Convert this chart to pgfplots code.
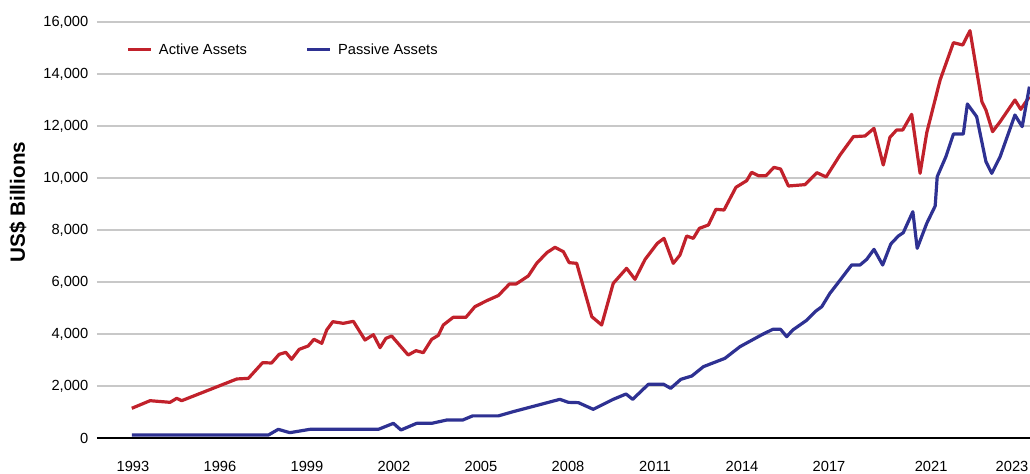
\documentclass[border=0pt]{standalone}
\usepackage{pgfplots}
\pgfplotsset{compat=1.18}
\usepackage{fontspec}
\setmainfont{Liberation Sans}
\definecolor{activered}{HTML}{C1212B}
\definecolor{passiveblue}{HTML}{2E3192}
\definecolor{gridgray}{HTML}{C8C8C8}
\pgfplotstableread{
x y
1992.96 1142
1993.59 1435
1994.28 1372
1994.51 1526
1994.68 1435
1996.58 2270
1996.98 2295
1997.47 2897
1997.78 2885
1998.04 3218
1998.27 3295
1998.47 3026
1998.73 3410
1999.04 3538
1999.24 3795
1999.51 3641
1999.68 4154
1999.89 4474
2000.25 4410
2000.60 4487
2001.00 3769
2001.29 3974
2001.52 3474
2001.72 3833
2001.92 3923
2002.49 3192
2002.76 3359
2003.01 3282
2003.30 3795
2003.53 3949
2003.70 4346
2004.04 4641
2004.48 4641
2004.79 5051
2005.20 5282
2005.60 5480
2005.98 5923
2006.21 5923
2006.63 6231
2006.92 6718
2007.27 7128
2007.55 7333
2007.84 7167
2008.04 6744
2008.30 6718
2008.82 4667
2009.16 4346
2009.56 5949
2010.02 6526
2010.31 6103
2010.66 6872
2011.08 7487
2011.31 7679
2011.63 6718
2011.86 7038
2012.09 7769
2012.32 7679
2012.53 8064
2012.84 8192
2013.10 8795
2013.38 8769
2013.79 9641
2014.16 9897
2014.33 10218
2014.56 10090
2014.83 10090
2015.10 10410
2015.33 10346
2015.60 9692
2016.17 9744
2016.58 10205
2016.90 10040
2017.38 10885
2017.84 11590
2018.24 11615
2018.55 11910
2018.87 10500
2019.10 11564
2019.33 11846
2019.54 11846
2019.85 12449
2020.14 10180
2020.37 11744
2020.83 13769
2021.29 15205
2021.61 15115
2021.86 15667
2022.27 12936
2022.41 12615
2022.64 11782
2022.90 12167
2023.41 13000
2023.61 12641
2023.91 13128
}\activetable
\pgfplotstableread{
x y
1992.96 115
1997.67 115
1998.01 333
1998.41 205
1999.10 333
2001.46 333
2001.98 564
2002.24 308
2002.78 564
2003.30 564
2003.82 692
2004.37 692
2004.71 850
2005.60 850
2006.11 1013
2007.72 1487
2008.01 1372
2008.36 1359
2008.87 1103
2009.56 1487
2010.00 1692
2010.23 1487
2010.77 2064
2011.29 2070
2011.54 1910
2011.89 2256
2012.27 2385
2012.67 2744
2013.41 3064
2013.93 3513
2014.73 4000
2015.06 4179
2015.33 4179
2015.54 3897
2015.75 4154
2016.21 4513
2016.52 4859
2016.75 5051
2017.03 5564
2017.21 5821
2017.78 6654
2018.07 6654
2018.30 6872
2018.55 7256
2018.85 6654
2019.13 7462
2019.39 7769
2019.56 7897
2019.89 8705
2020.04 7295
2020.37 8256
2020.66 8923
2020.73 10051
2021.03 10821
2021.29 11692
2021.63 11692
2021.77 12846
2022.09 12359
2022.41 10628
2022.61 10179
2022.90 10821
2023.41 12423
2023.66 11974
2023.91 13513
}\passivetable
\begin{document}
\begin{tikzpicture}
\useasboundingbox (-72.75pt,-27pt) rectangle (699.75pt,328.5pt);
\begin{axis}[
  at={(0pt,0pt)}, anchor=south west,
  scale only axis,
  width=699.75pt, height=312pt,
  xmin=1991.76, xmax=2023.93,
  ymin=0, ymax=16000,
  axis line style={draw=none},
  ytick={2000,4000,...,16000},
  extra y ticks={0},
  extra y tick style={grid style={black, line width=1.8pt}},
  ymajorgrids,
  grid style={gridgray, line width=0.9pt},
  major tick length=0pt,
  xtick={1993,1996,1999,2002,2005,2008,2011,2014,2017,2020.52,2023.31},
  xticklabels={1993,1996,1999,2002,2005,2008,2011,2014,2017,2021,2023},
  ticklabel style={font=\fontsize{11}{13}\selectfont, text=black},
  yticklabel style={xshift=-3pt},
  xticklabel style={yshift=-14pt},
  /pgf/number format/assume math mode=true,
  /pgf/number format/.cd, 1000 sep={,}, /pgfplots/.cd,
  scaled y ticks=false,
  ylabel={US\$ Billions},
  ylabel style={at={(axis description cs:-0.0847,0.567)}, anchor=center, font=\fontsize{15.5}{18}\selectfont\bfseries},
  legend columns=2,
  legend style={draw=none, fill=none, at={(axis description cs:0.027,0.933)}, anchor=west,
    font=\fontsize{11}{13}\selectfont,
    /tikz/every odd column/.append style={column sep=3pt},
    /tikz/every even column/.append style={column sep=42pt}},
  legend image code/.code={\draw[#1, line width=2.4pt] (0pt,0pt) -- (17pt,0pt);},
]
\addplot[activered, line width=2.4pt, line join=round] table[x=x,y=y]{\activetable};
\addlegendentry{Active Assets}
\addplot[passiveblue, line width=2.4pt, line join=round] table[x=x,y=y]{\passivetable};
\addlegendentry{Passive Assets}
\end{axis}
\end{tikzpicture}
\end{document}
